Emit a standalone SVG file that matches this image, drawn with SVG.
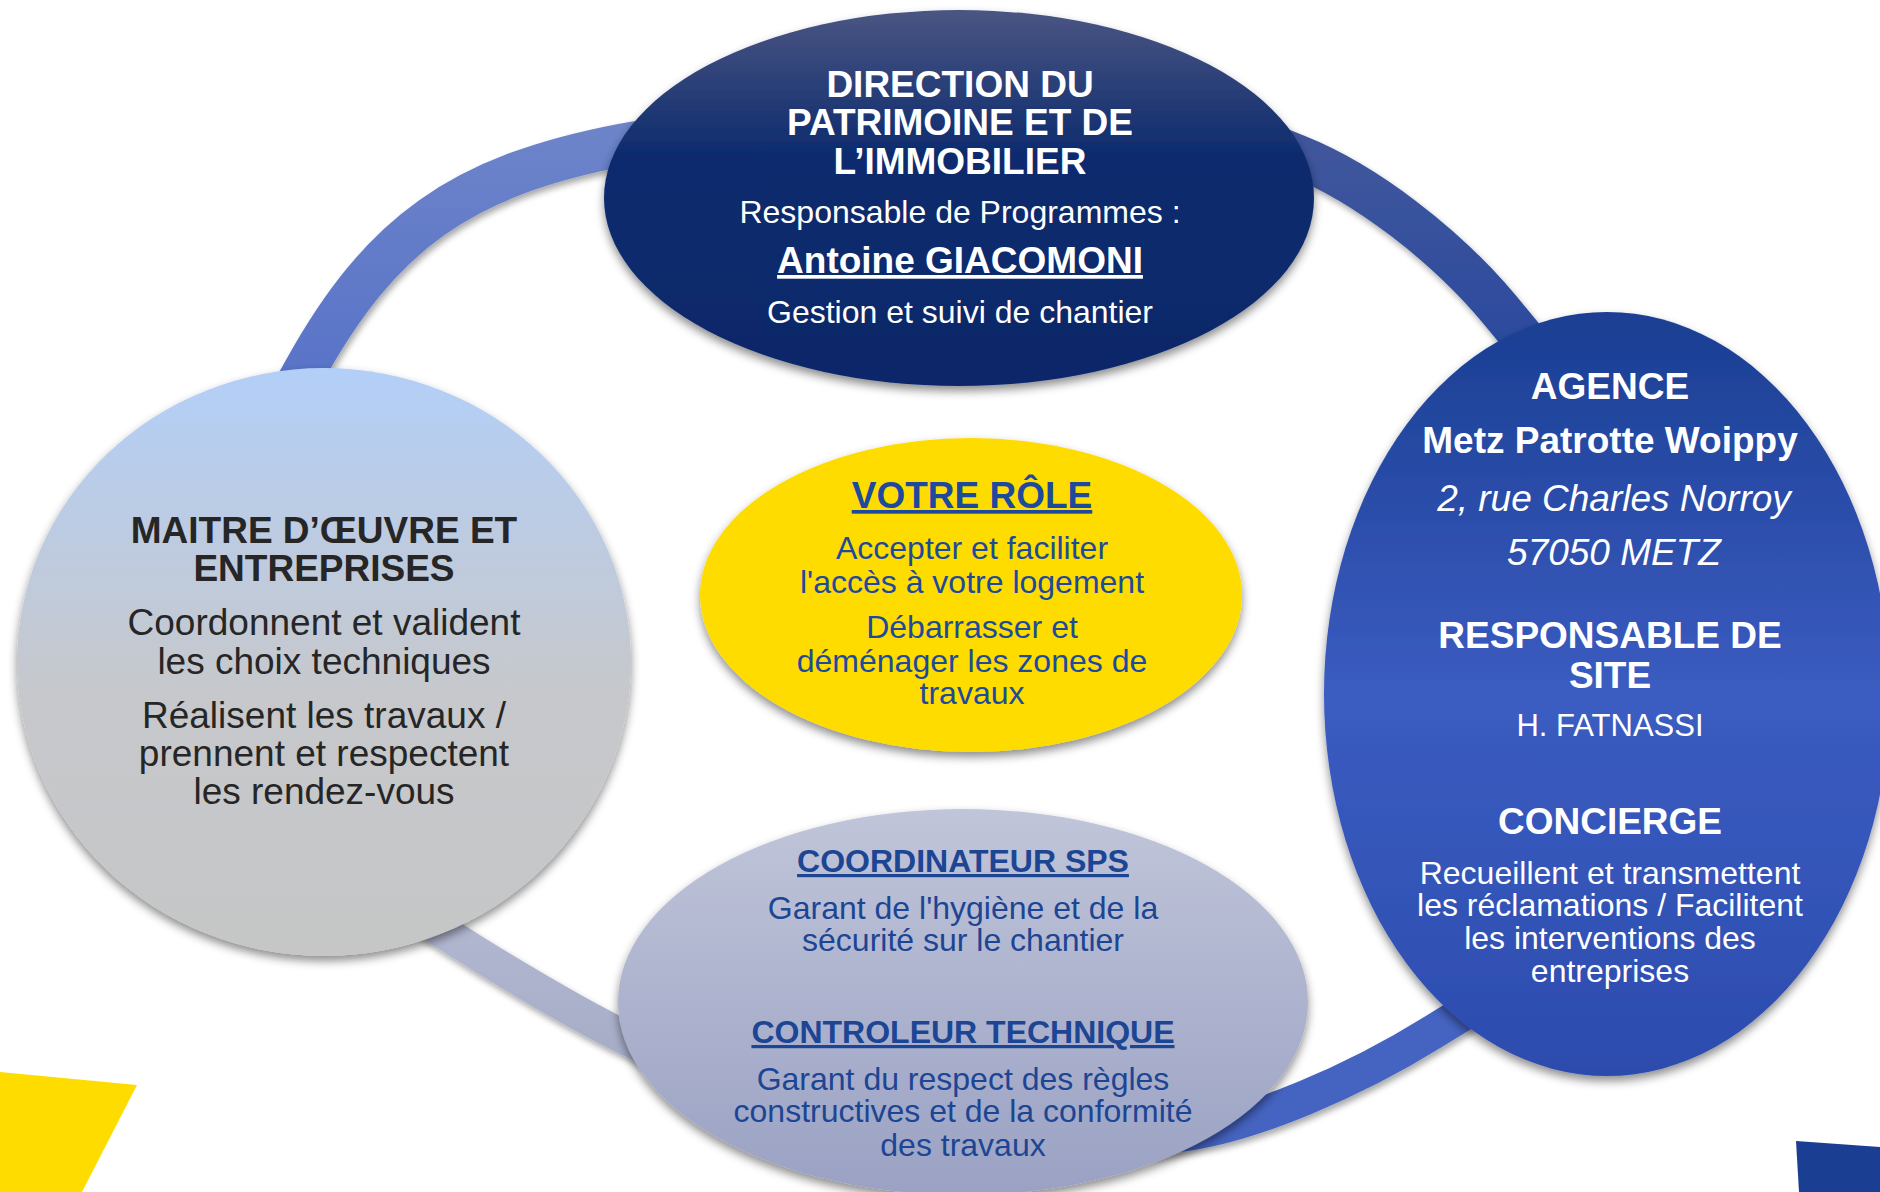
<svg xmlns="http://www.w3.org/2000/svg" width="1880" height="1192" viewBox="0 0 1880 1192">
<defs>
<linearGradient id="gTop" x1="0" y1="0" x2="0" y2="1">
<stop offset="0" stop-color="#4a5582"/><stop offset="0.38" stop-color="#0e2c6e"/><stop offset="1" stop-color="#09276a"/>
</linearGradient>
<linearGradient id="gLeft" x1="0" y1="0" x2="0" y2="1">
<stop offset="0" stop-color="#b3cff8"/><stop offset="0.55" stop-color="#c6c8cc"/><stop offset="1" stop-color="#c6c6c6"/>
</linearGradient>
<linearGradient id="gRight" x1="0" y1="0" x2="0" y2="1">
<stop offset="0" stop-color="#1a3e92"/><stop offset="0.5" stop-color="#3b5cc1"/><stop offset="1" stop-color="#2c4cae"/>
</linearGradient>
<linearGradient id="gBottom" x1="0" y1="0" x2="0" y2="1">
<stop offset="0" stop-color="#c0c5d9"/><stop offset="1" stop-color="#9aa1c3"/>
</linearGradient>
<linearGradient id="gArcA" x1="0" y1="1" x2="0" y2="0">
<stop offset="0" stop-color="#5570c8"/><stop offset="1" stop-color="#6d84c9"/>
</linearGradient>
<linearGradient id="gArcB" x1="0" y1="0" x2="0" y2="1">
<stop offset="0" stop-color="#42579c"/><stop offset="1" stop-color="#2a4a9e"/>
</linearGradient>
<linearGradient id="gArcC" x1="0" y1="0" x2="0" y2="1">
<stop offset="0" stop-color="#b4b9d3"/><stop offset="1" stop-color="#a6acc6"/>
</linearGradient>
<filter id="sh" x="-20%" y="-20%" width="140%" height="150%">
<feDropShadow dx="0" dy="5" stdDeviation="5" flood-color="#000" flood-opacity="0.45"/>
</filter>
<filter id="shA" x="-20%" y="-20%" width="140%" height="150%">
<feDropShadow dx="2" dy="4" stdDeviation="3" flood-color="#000" flood-opacity="0.35"/>
</filter>
</defs>
<style>
text { font-family: "Liberation Sans", Arial, sans-serif; text-anchor: middle; }
.b { font-weight: bold; }
.u { text-decoration: underline; }
.i { font-style: italic; }
.w { fill: #ffffff; }
.k { fill: #262626; }
.y { fill: #1e4a9c; }
.p { fill: #1c4593; }
.arc { fill: none; stroke-linecap: butt; filter: url(#shA); }
</style>
<rect width="1880" height="1192" fill="#ffffff"/>
<polygon points="0,1072 137,1085 82,1192 0,1192" fill="#ffdc00"/>
<polygon points="1796,1141 1880,1147 1880,1192 1799,1192" fill="#1a3f92"/>
<g id="connectors">
<path class="arc" d="M276,422 L305,370 C381,233 461,176 622,145 L720,128" stroke="url(#gArcA)" stroke-width="43"/>
<path class="arc" d="M1232,130 L1297,156 C1365,183 1446,245 1500,310 L1538,356" stroke="url(#gArcB)" stroke-width="43"/>
<path class="arc" d="M398,903 L448,935 C498,967 576,1014 630,1040 L684,1066" stroke="url(#gArcC)" stroke-width="34"/>
<path class="arc" d="M1150,1139 L1190,1133 C1254,1123 1351,1083 1433,1032 L1485,1000" stroke="#4564c1" stroke-width="35"/>
</g>
<g id="node-direction">
<ellipse cx="959" cy="198" rx="355" ry="188" fill="url(#gTop)" filter="url(#sh)"/>
<text class="b w" x="960" y="97" font-size="37">DIRECTION DU</text>
<text class="b w" x="960" y="135" font-size="37">PATRIMOINE ET DE</text>
<text class="b w" x="960" y="174" font-size="37">L’IMMOBILIER</text>
<text class="w" x="960" y="223" font-size="32">Responsable de Programmes :</text>
<text class="b u w" x="960" y="273" font-size="37">Antoine GIACOMONI</text>
<text class="w" x="960" y="323" font-size="32">Gestion et suivi de chantier</text>
</g>
<g id="node-maitre">
<ellipse cx="324" cy="662" rx="307" ry="294" fill="url(#gLeft)" filter="url(#sh)"/>
<text class="b k" x="324" y="543" font-size="37">MAITRE D’ŒUVRE ET</text>
<text class="b k" x="324" y="581" font-size="37">ENTREPRISES</text>
<text class="k" x="324" y="635" font-size="37">Coordonnent et valident</text>
<text class="k" x="324" y="674" font-size="37">les choix techniques</text>
<text class="k" x="324" y="728" font-size="37">Réalisent les travaux /</text>
<text class="k" x="324" y="766" font-size="37">prennent et respectent</text>
<text class="k" x="324" y="804" font-size="37">les rendez-vous</text>
</g>
<g id="node-agence">
<ellipse cx="1607" cy="694" rx="283" ry="382" fill="url(#gRight)" filter="url(#sh)"/>
<text class="b w" x="1610" y="399" font-size="37">AGENCE</text>
<text class="b w" x="1610" y="453" font-size="37">Metz Patrotte Woippy</text>
<text class="i w" x="1614" y="511" font-size="37">2, rue Charles Norroy</text>
<text class="i w" x="1614" y="565" font-size="37">57050 METZ</text>
<text class="b w" x="1610" y="648" font-size="37">RESPONSABLE DE</text>
<text class="b w" x="1610" y="688" font-size="37">SITE</text>
<text class="w" x="1610" y="736" font-size="31">H. FATNASSI</text>
<text class="b w" x="1610" y="834" font-size="37">CONCIERGE</text>
<text class="w" x="1610" y="884" font-size="32">Recueillent et transmettent</text>
<text class="w" x="1610" y="916" font-size="32">les réclamations / Facilitent</text>
<text class="w" x="1610" y="949" font-size="32">les interventions des</text>
<text class="w" x="1610" y="982" font-size="32">entreprises</text>
</g>
<g id="node-role">
<ellipse cx="971" cy="595" rx="271" ry="157" fill="#ffdc00" filter="url(#sh)"/>
<text class="b u y" x="972" y="508" font-size="37">VOTRE RÔLE</text>
<text class="y" x="972" y="559" font-size="32">Accepter et faciliter</text>
<text class="y" x="972" y="593" font-size="32">l'accès à votre logement</text>
<text class="y" x="972" y="638" font-size="32">Débarrasser et</text>
<text class="y" x="972" y="672" font-size="32">déménager les zones de</text>
<text class="y" x="972" y="704" font-size="32">travaux</text>
</g>
<g id="node-coordinateur">
<ellipse cx="963" cy="1002" rx="345" ry="193" fill="url(#gBottom)" filter="url(#sh)"/>
<text class="b u p" x="963" y="872" font-size="32">COORDINATEUR SPS</text>
<text class="p" x="963" y="919" font-size="32">Garant de l'hygiène et de la</text>
<text class="p" x="963" y="951" font-size="32">sécurité sur le chantier</text>
<text class="b u p" x="963" y="1043" font-size="32">CONTROLEUR TECHNIQUE</text>
<text class="p" x="963" y="1090" font-size="32">Garant du respect des règles</text>
<text class="p" x="963" y="1122" font-size="32">constructives et de la conformité</text>
<text class="p" x="963" y="1156" font-size="32">des travaux</text>
</g>
</svg>
